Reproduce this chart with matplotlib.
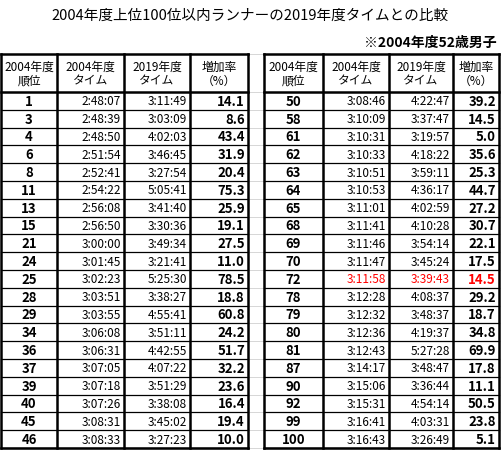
import matplotlib
matplotlib.use("Agg")
import matplotlib.pyplot as plt

plt.rcParams['font.family'] = ['Noto Sans CJK JP', 'DejaVu Sans']

title = "2004年度上位100位以内ランナーの2019年度タイムとの比較"
subtitle = "※2004年度52歳男子"
headers = ["2004年度\n順位", "2004年度\nタイム", "2019年度\nタイム", "増加率\n（%）"]

rank_l = [1, 3, 4, 6, 8, 11, 13, 15, 21, 24, 25, 28, 29, 34, 36, 37, 39, 40, 45, 46]
t04_l = ["2:48:07", "2:48:39", "2:48:50", "2:51:54", "2:52:41", "2:54:22", "2:56:08", "2:56:50", "3:00:00", "3:01:45",
         "3:02:23", "3:03:51", "3:03:55", "3:06:08", "3:06:31", "3:07:05", "3:07:18", "3:07:26", "3:08:31", "3:08:33"]
t19_l = ["3:11:49", "3:03:09", "4:02:03", "3:46:45", "3:27:54", "5:05:41", "3:41:40", "3:30:36", "3:49:34", "3:21:41",
         "5:25:30", "3:38:27", "4:55:41", "3:51:11", "4:42:55", "4:07:22", "3:51:29", "3:38:08", "3:45:02", "3:27:23"]
inc_l = [14.1, 8.6, 43.4, 31.9, 20.4, 75.3, 25.9, 19.1, 27.5, 11.0, 78.5, 18.8, 60.8, 24.2, 51.7, 32.2, 23.6, 16.4, 19.4, 10.0]

rank_r = [50, 58, 61, 62, 63, 64, 65, 68, 69, 70, 72, 78, 79, 80, 81, 87, 90, 92, 99, 100]
t04_r = ["3:08:46", "3:10:09", "3:10:31", "3:10:33", "3:10:51", "3:10:53", "3:11:01", "3:11:41", "3:11:46", "3:11:47",
         "3:11:58", "3:12:28", "3:12:32", "3:12:36", "3:12:43", "3:14:17", "3:15:06", "3:15:31", "3:16:41", "3:16:43"]
t19_r = ["4:22:47", "3:37:47", "3:19:57", "4:18:22", "3:59:11", "4:36:17", "4:02:59", "4:10:28", "3:54:14", "3:45:24",
         "3:39:43", "4:08:37", "3:48:37", "4:19:37", "5:27:28", "3:48:47", "3:36:44", "4:54:14", "4:03:31", "3:26:49"]
inc_r = [39.2, 14.5, 5.0, 35.6, 25.3, 44.7, 27.2, 30.7, 22.1, 17.5, 14.5, 29.2, 18.7, 34.8, 69.9, 17.8, 11.1, 50.5, 23.8, 5.1]
highlight_rank = 72

fig = plt.figure(figsize=(5.01, 4.52), dpi=100)
ax = fig.add_axes([0, 0, 1, 1])
ax.set_xlim(0, 501)
ax.set_ylim(452, 0)
ax.axis('off')

ax.text(250, 16, title, ha='center', va='center', fontsize=10.5)
ax.text(497, 43, subtitle, ha='right', va='center', fontsize=10, fontweight='bold')

top, hb, bottom = 55, 93, 449
nrows = 20
rh = (bottom - hb) / nrows

for i in range(nrows + 1):
    y = hb + i * rh
    ax.plot([248, 264], [y, y], color='#d0d0d0', lw=0.6)
ax.plot([248, 264], [55, 55], color='#d0d0d0', lw=0.6)

def draw_table(xs, ranks, t04, t19, inc):
    x0, x1 = xs[0], xs[-1]
    for j in range(4):
        ax.text((xs[j] + xs[j + 1]) / 2, (top + hb) / 2, headers[j], ha='center', va='center',
                fontsize=8.5, linespacing=1.1)
    for i in range(nrows):
        yc = hb + (i + 0.5) * rh
        col = 'red' if ranks[i] == highlight_rank else 'black'
        ax.text((xs[0] + xs[1]) / 2, yc, str(ranks[i]), ha='center', va='center', fontsize=9.5, fontweight='bold')
        ax.text(xs[2] - 3, yc, t04[i], ha='right', va='center', fontsize=8.5, color=col)
        ax.text(xs[3] - 3, yc, t19[i], ha='right', va='center', fontsize=8.5, color=col)
        ax.text(xs[4] - 3, yc, f"{inc[i]:.1f}", ha='right', va='center', fontsize=9.5, fontweight='bold', color=col)
        ax.plot([x0, x1], [hb + (i + 1) * rh] * 2, color='black', lw=0.9)
    ax.plot([x0, x1], [top, top], color='black', lw=1.8)
    ax.plot([x0, x1], [hb, hb], color='black', lw=1.8)
    ax.plot([x0, x1], [bottom, bottom], color='black', lw=1.8)
    for x in xs:
        ax.plot([x, x], [top, bottom], color='black', lw=1.8)

draw_table([1, 57, 124, 190, 248], rank_l, t04_l, t19_l, inc_l)
draw_table([264, 323, 389, 453, 499], rank_r, t04_r, t19_r, inc_r)

fig.savefig("out.png", dpi=100)
